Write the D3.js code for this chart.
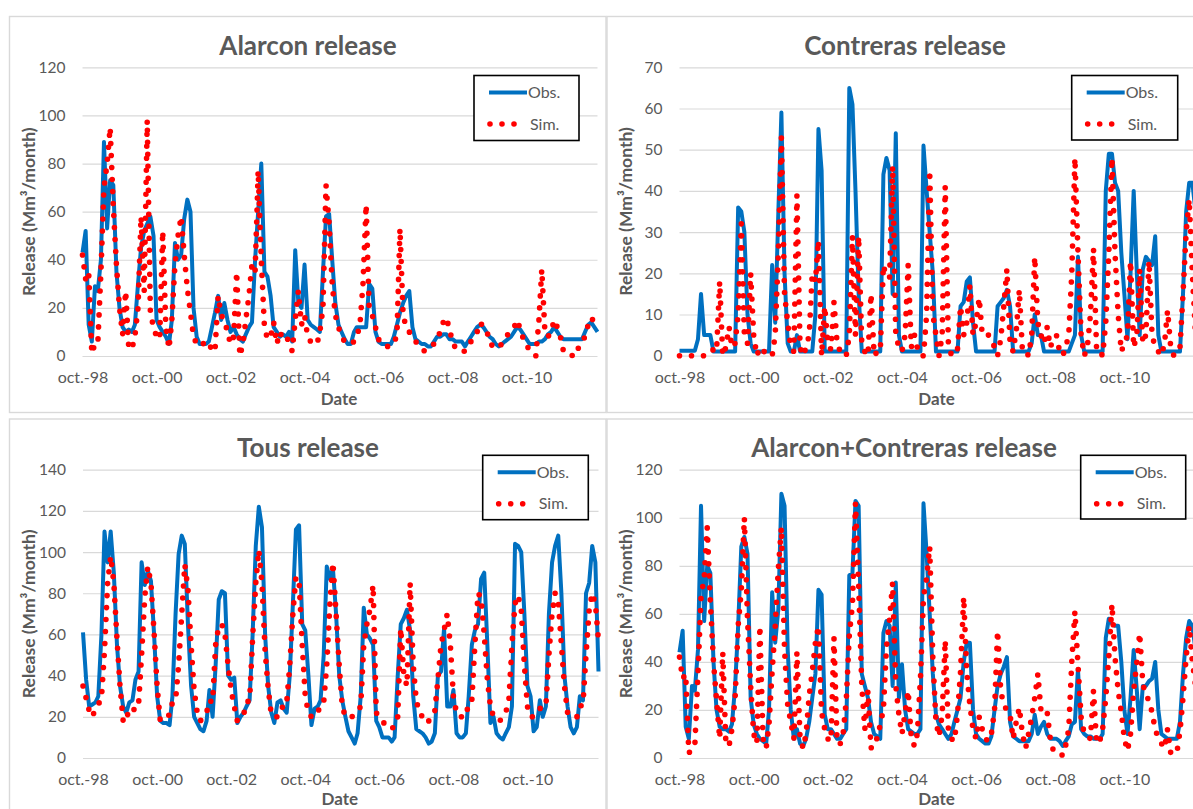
<!DOCTYPE html>
<html>
<head>
<meta charset="utf-8">
<script src="https://cdn.jsdelivr.net/npm/d3@7"></script>
<style>
  html, body { margin: 0; padding: 0; background: #ffffff; }
  svg { display: block; font-family: Lato, "Open Sans", sans-serif; }
</style>
</head>
<body>
<svg id="chart" width="1193" height="809"></svg>
<script>
// Monthly reservoir releases (Mm³/month), Oct 1998 – Sep 2012: observed vs simulated.
const startMonth = new Date(1998, 9, 1);
const monthCount = 168;

const xTickYears = [1998, 2000, 2002, 2004, 2006, 2008, 2010];
const xTickLabels = ["oct.-98", "oct.-00", "oct.-02", "oct.-04", "oct.-06", "oct.-08", "oct.-10"];

const seriesNames = ["Obs.", "Sim."];

const alarconObs = [
  43,52,13,6,29,27,40,89,53,73,71,35,
  20,12,10,11,10,13,30,45,52,55,58,50,
  15,12,10,8,5,15,47,40,42,57,65,60,
  20,8,5,5,5,6,12,18,25,15,22,15,
  10,12,9,7,6,9,12,14,40,60,80,35,
  33,25,12,10,8,9,8,10,6,44,22,20,
  38,15,13,12,11,10,35,58,59,40,22,13,
  10,7,5,5,10,12,12,12,12,30,28,10,
  6,5,5,5,5,8,13,18,22,25,27,12,
  7,6,5,5,4,4,6,8,8,9,9,7,
  7,6,6,6,4,6,8,10,12,13,12,10,
  8,7,5,4,5,6,7,8,10,12,11,9,
  7,5,5,5,6,6,7,9,10,12,10,8,
  7,7,7,7,7,7,7,10,13,14,12,10
];
const alarconSim = [
  42,32,35,1,5,5,35,70,80,95,62,38,
  20,9,27,3,3,8,20,58,27,98,18,12,
  8,7,52,12,3,15,38,50,58,42,28,18,
  8,5,4,5,6,6,2,2,25,17,15,10,
  5,8,35,0,5,15,25,38,35,77,40,12,
  7,8,14,5,10,7,8,6,2,15,27,13,
  17,8,6,5,5,10,20,71,55,30,17,12,
  8,6,5,5,6,8,13,30,63,20,17,12,
  7,5,4,4,4,6,8,53,17,12,10,8,
  6,5,3,2,3,4,5,7,10,14,16,11,
  6,3,2,2,2,4,6,8,10,14,12,11,
  6,4,3,4,5,7,9,10,12,15,11,7,
  4,3,1,0,15,36,10,8,10,15,12,8,
  2,2,1,0,0,4,6,8,13,16,14,11
];

const contrerasObs = [
  1.2,1.2,1.2,1.2,1.2,1.2,4,15,5,5,5,1,
  1,1,1,1,1,1,1,36,35,30,10,3,
  1,1,1,1,1,1,22,8,35,59,20,3,
  1,1,5,1,1,1,1,1,10,55,45,1,
  1,1,1,1,1,1,1,65,61,40,15,1,
  1,1,1,1,1,1,44,48,45,15,54,5,
  1,1,1,1,1,1,1,51,40,30,20,1,
  1,1,1,1,1,1,1,12,13,18,19,8,
  1,1,1,1,1,1,1,12,13,14,16,12,
  1,1,1,1,1,1,3,10,5,5,1,1,
  1,1,1,1,1,1,1,3,5,24,5,1,
  1,1,1,1,1,1,40,49,49,42,40,25,
  15,4,20,40,20,5,21,24,23,22,29,5,
  1,1,1,1,1,1,1,15,35,42,42,35
];
const contrerasSim = [
  0,0,0,0,0,0,0,0,0,0,1,1.5,
  1,18,0,2,7,2,3,10,32,5,3,20,
  5,0,2,1,1,1,0,5,25,53,15,8,
  2,1,39,2,0,2,5,20,18,28,0,12,
  3,1.5,13,3,1,1,0,5,29,5,29,3,
  1,0,15,0,1,1,22,19,19,46,5,2,
  1,5,22,2,5,2,0,0,10,45,10,5,
  0,5,41,3,0,1,1.5,12,5,8,17,5,
  8,14,5,5,5,4,2,0,4,12,21,3,
  1,6,16,1,1,0,5,24,8,5,3,7,
  2,4,5,1,0,2,5,20,48,25,5,0,
  2,10,26,1,1,0,8,25,48,25,10,1,
  3,5,23,2,5,21,3,5,23,5,2,1,
  0,3,11,2,0,1,2,15,30,38,20,5
];

const tousObs = [
  61,38,25,26,27,30,60,110,95,110,90,55,
  35,25,22,27,28,38,42,95,84,91,86,60,
  30,18,17,17,16,30,70,99,108,104,65,35,
  20,17,14,13,18,33,20,45,77,81,80,40,
  38,39,17,20,22,25,28,60,103,122,112,60,
  35,22,17,27,28,24,22,40,75,111,113,65,
  62,40,16,24,25,28,50,93,87,92,70,40,
  28,20,13,10,7,12,30,73,60,58,55,18,
  15,10,10,10,8,10,40,65,68,72,62,30,
  14,13,12,10,7,8,12,40,42,63,25,25,
  33,12,10,10,12,30,55,62,65,87,90,55,
  17,20,12,10,9,12,15,25,104,103,100,70,
  35,30,13,15,28,20,25,70,95,103,108,80,
  40,25,15,12,15,30,28,80,85,103,95,42
];
const tousSim = [
  35,29,23,20,24,26,29,52,85,98,85,58,
  35,18,22,20,21,26,26,50,78,93,85,61,
  35,18,19,20,21,27,28,45,70,94,82,55,
  33,22,18,20,22,28,27,55,64,65,60,45,
  33,25,18,19,21,27,28,58,85,101,85,52,
  34,21,20,20,21,27,27,45,70,88,86,55,
  30,22,20,20,22,26,27,45,75,95,70,45,
  25,20,20,20,21,23,25,55,65,72,84,22,
  20,18,16,15,14,16,20,63,40,35,85,45,
  28,22,20,17,18,20,23,38,55,62,70,55,
  30,22,20,20,20,27,28,55,80,78,60,38,
  25,20,19,18,20,22,28,55,75,79,72,45,
  25,20,20,22,24,25,25,50,70,80,76,55,
  35,22,20,20,20,25,26,50,72,80,75,57
];

const alarconContrerasObs = [
  44,53,13,8,30,28,45,105,57,80,77,40,
  20,13,12,12,11,14,30,55,88,92,85,25,
  14,10,8,7,6,20,69,48,62,110,105,45,
  20,8,12,6,5,8,15,25,35,70,68,18,
  12,12,10,8,8,10,12,76,77,107,105,35,
  30,25,15,10,9,8,52,57,55,30,73,25,
  39,20,12,11,10,10,12,106,85,60,35,18,
  14,12,10,8,10,15,20,25,40,48,48,20,
  10,8,7,6,6,9,20,30,35,38,42,15,
  9,8,7,7,7,7,10,18,10,13,15,10,
  8,8,8,7,5,7,9,14,15,37,12,10,
  9,9,8,8,8,10,50,58,56,55,55,40,
  20,10,25,45,28,12,30,30,32,33,40,20,
  10,9,8,8,8,8,15,35,50,57,55,45
];
const alarconContrerasSim = [
  42,33,35,2,4,5,35,67,75,96,65,40,
  24,8,44,6,5,12,25,55,70,100,58,30,
  10,6,55,8,4,14,36,55,79,96,45,22,
  15,8,44,8,4,10,26,36,48,55,19,12,
  8,7,50,6,6,10,24,51,64,106,72,30,
  12,28,4,8,8,14,20,46,58,73,30,18,
  10,19,28,8,5,10,33,67,75,88,42,15,
  9,18,49,12,8,7,18,36,67,36,22,12,
  8,17,12,8,7,10,20,53,28,22,20,18,
  8,15,21,10,4,10,17,25,35,20,18,19,
  8,3,3,2,1,5,12,40,61,39,17,10,
  9,8,28,6,7,12,25,42,64,42,28,19,
  8,3,10,28,40,52,31,26,24,19,12,8,
  6,4,12,2,2,2,11,25,42,55,40,30
];

const months = d3.range(monthCount).map(i => d3.timeMonth.offset(startMonth, i));
const xTickDates = xTickYears.map(y => new Date(y, 9, 1));

const textColor = "#595959";
const gridColor = "#d9d9d9";
const obsColor = "#0070c0";
const simColor = "#ff0000";

// Layout of the four panels (frame, plot area, legend box, title anchor).
const panels = [
  { title: "Alarcon release", obs: alarconObs, sim: alarconSim, yMax: 120, yStep: 20,
    frame: [9.5, 16.5, 596.5, 396], plot: { x0: 82.5, x1: 597.5, y0: 356, y1: 67.3 },
    legend: [474, 75.5, 105, 65], titleX: 308, dateY: 405 },
  { title: "Contreras release", obs: contrerasObs, sim: contrerasSim, yMax: 70, yStep: 10,
    frame: [607, 16.5, 700, 396], plot: { x0: 679.5, x1: 1195.5, y0: 355.7, y1: 67.3 },
    legend: [1071.7, 75.5, 106, 64.5], titleX: 905, dateY: 405 },
  { title: "Tous release", obs: tousObs, sim: tousSim, yMax: 140, yStep: 20,
    frame: [9.5, 419, 596.5, 400], plot: { x0: 83, x1: 598.5, y0: 758, y1: 469.7 },
    legend: [482.7, 455.3, 105.6, 64.4], titleX: 308, dateY: 805 },
  { title: "Alarcon+Contreras release", obs: alarconContrerasObs, sim: alarconContrerasSim, yMax: 120, yStep: 20,
    frame: [607, 419, 700, 400], plot: { x0: 679.5, x1: 1195.5, y0: 758, y1: 469.7 },
    legend: [1080.7, 455.3, 105, 63.7], titleX: 904, dateY: 805 }
];

const svg = d3.select("#chart");

panels.forEach(p => {
  const g = svg.append("g");
  const [fx, fy, fw, fh] = p.frame;

  g.append("rect")
    .attr("x", fx).attr("y", fy).attr("width", fw).attr("height", fh)
    .attr("fill", "#ffffff").attr("stroke", gridColor).attr("stroke-width", 1.4);

  const x = d3.scaleTime().domain([months[0], months[monthCount - 1]]).range([p.plot.x0, p.plot.x1]);
  const y = d3.scaleLinear().domain([0, p.yMax]).range([p.plot.y0, p.plot.y1]);

  // horizontal gridlines + value labels
  const yAxis = g.append("g")
    .attr("transform", `translate(${p.plot.x0},0)`)
    .call(d3.axisLeft(y)
      .tickValues(d3.range(0, p.yMax + 0.001, p.yStep))
      .tickSize(-(p.plot.x1 - p.plot.x0))
      .tickPadding(17)
      .tickFormat(d3.format("d")));
  yAxis.select(".domain").remove();
  yAxis.selectAll("line").attr("stroke", gridColor).attr("stroke-width", 1.2);
  yAxis.selectAll("text").attr("fill", textColor).attr("font-size", 15.5)
    .attr("font-family", "Lato, sans-serif");

  // date labels
  const xAxis = g.append("g")
    .attr("transform", `translate(0,${p.plot.y0})`)
    .call(d3.axisBottom(x)
      .tickValues(xTickDates)
      .tickSize(0)
      .tickPadding(15.5)
      .tickFormat((d, i) => xTickLabels[i]));
  xAxis.select(".domain").remove();
  xAxis.selectAll("text").attr("fill", textColor).attr("font-size", 16)
    .attr("font-family", "Lato, sans-serif");

  const line = d3.line()
    .x((d, i) => x(months[i]))
    .y(d => y(d))
    .curve(d3.curveLinear);

  g.append("path")
    .datum(p.obs)
    .attr("d", line)
    .attr("fill", "none")
    .attr("stroke", obsColor)
    .attr("stroke-width", 4)
    .attr("stroke-linejoin", "round");

  g.append("path")
    .datum(p.sim)
    .attr("d", line)
    .attr("fill", "none")
    .attr("stroke", simColor)
    .attr("stroke-width", 5.6)
    .attr("stroke-linecap", "round")
    .attr("stroke-linejoin", "round")
    .attr("stroke-dasharray", "0 12");

  // chart title
  g.append("text")
    .attr("x", p.titleX)
    .attr("y", p.plot.y1 - 12.3)
    .attr("text-anchor", "middle")
    .attr("font-size", 26).attr("font-weight", 700)
    .attr("fill", textColor)
    .text(p.title);

  // axis titles
  g.append("text")
    .attr("transform", `translate(${fx + 19},${(p.plot.y0 + p.plot.y1) / 2}) rotate(-90)`)
    .attr("text-anchor", "middle")
    .attr("dy", "0.35em")
    .attr("font-size", 17.5).attr("font-weight", 700)
    .attr("fill", textColor)
    .text("Release (Mm³/month)");

  g.append("text")
    .attr("x", (p.plot.x0 + p.plot.x1) / 2 - 1)
    .attr("y", p.dateY)
    .attr("text-anchor", "middle")
    .attr("font-size", 17).attr("font-weight", 700)
    .attr("fill", textColor)
    .text("Date");

  // legend
  const [lx, ly, lw, lh] = p.legend;
  const lg = g.append("g").attr("transform", `translate(${lx},${ly})`);
  lg.append("rect")
    .attr("width", lw).attr("height", lh)
    .attr("fill", "#ffffff").attr("stroke", "#000000").attr("stroke-width", 1.6);
  lg.append("line")
    .attr("x1", 15).attr("x2", 53).attr("y1", 17).attr("y2", 17)
    .attr("stroke", obsColor).attr("stroke-width", 4);
  lg.append("text")
    .attr("x", 54).attr("y", 22.5)
    .attr("font-size", 16).attr("fill", textColor)
    .text(seriesNames[0]);
  lg.append("line")
    .attr("x1", 16).attr("x2", 41).attr("y1", 48.5).attr("y2", 48.5)
    .attr("stroke", simColor).attr("stroke-width", 5.6)
    .attr("stroke-linecap", "round").attr("stroke-dasharray", "0 12");
  lg.append("text")
    .attr("x", 56).attr("y", 54)
    .attr("font-size", 16).attr("fill", textColor)
    .text(seriesNames[1]);
});
</script>
</body>
</html>
